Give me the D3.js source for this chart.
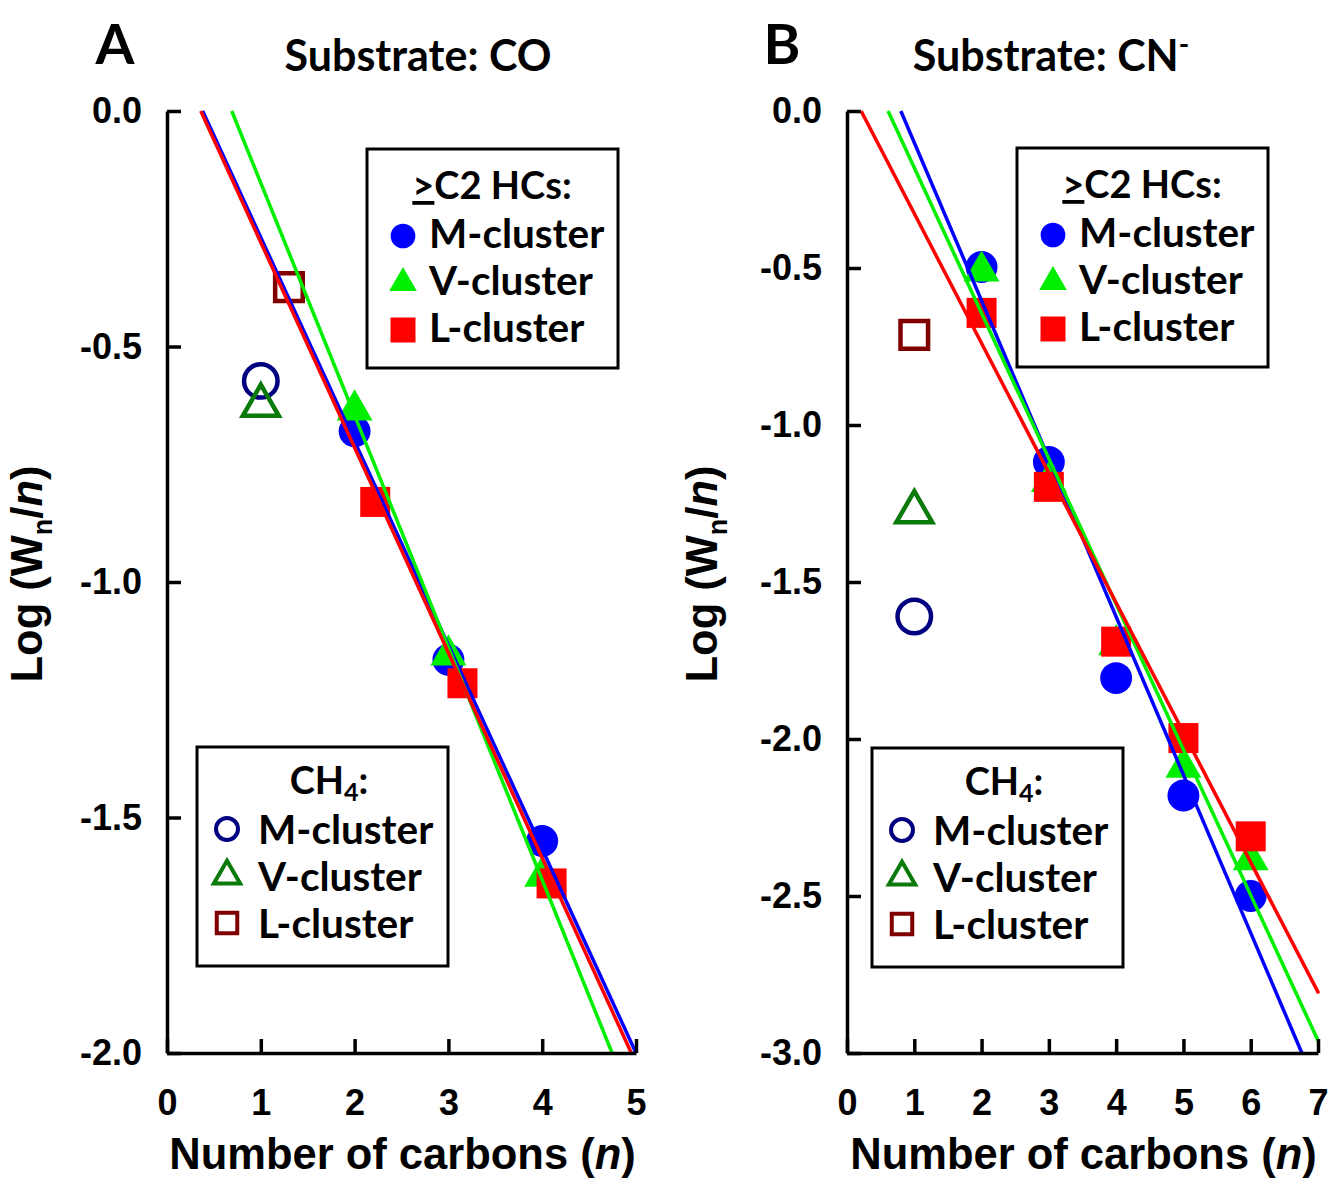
<!DOCTYPE html>
<html lang="en">
<head>
<meta charset="UTF-8" />
<title>Log (Wn/n) vs number of carbons</title>
<script src="https://d3js.org/d3.v7.min.js"></script>
<style>
    body { margin: 0; background: #fff; }
    .axis path, .axis line { stroke: #000; stroke-width: 3.5; }
    .axis text { font-family: "Liberation Sans", Arial, sans-serif; font-weight: bold; font-size: 36px; fill: #000; }
    .axis-title { font-family: "Liberation Sans", Arial, sans-serif; font-weight: bold; font-size: 43.5px; fill: #000; }
    .cal { font-family: Lato, "Open Sans", sans-serif; font-weight: bold; fill: #000; }
    .fit { fill: none; stroke-width: 3.5; }
    .legend-box { fill: #fff; stroke: #000; stroke-width: 3; }
</style>
</head>
<body>
<div id="chart"></div>
<script>
// ---- panel A : substrate CO ----
var xTicksA = [0, 1, 2, 3, 4, 5];
var yTicksA = [0, -0.5, -1, -1.5, -2];
var nA = [2, 3, 4];
var mClusterA = [-0.68, -1.165, -1.55];
var vClusterA = [-0.635, -1.155, -1.625];
var nLA = [2.22, 3.15, 4.1];          // L-cluster points sit a bit right of the integers
var lClusterA = [-0.83, -1.215, -1.64];
var ch4NA = [1, 1, 1.3];              // CH4 points: M, V, L
var ch4A = [-0.573, -0.625, -0.374];
var fitMA = [[0.38, 0], [5.0, -2.0]];
var fitVA = [[0.69, 0], [4.745, -2.0]];
var fitLA = [[0.36, 0], [4.95, -2.0]];

// ---- panel B : substrate CN- ----
var xTicksB = [0, 1, 2, 3, 4, 5, 6, 7];
var yTicksB = [0, -0.5, -1, -1.5, -2, -2.5, -3];
var nB = [2, 3, 4, 5, 6];
var mClusterB = [-0.497, -1.118, -1.806, -2.18, -2.5];
var vClusterB = [-0.51, -1.18, -1.7, -2.09, -2.385];
var lClusterB = [-0.643, -1.197, -1.69, -1.997, -2.31];
var ch4NB = [1, 1, 1];
var ch4B = [-1.61, -1.277, -0.713];
var fitMB = [[0.8, 0], [6.76, -3.0]];
var fitVB = [[0.61, 0], [7.01, -2.965]];
var fitLB = [[0.21, 0], [7.01, -2.81]];

var clusterNames = ["M-cluster", "V-cluster", "L-cluster"];

var fillCol = ["#0000ff", "#00ee00", "#ff0000"];
var openCol = ["#000080", "#0a7a0a", "#800000"];
var symbols = [d3.symbolCircle, d3.symbolTriangle, d3.symbolSquare];

var svg = d3.select("#chart").append("svg")
    .attr("width", 1332)
    .attr("height", 1180);

function drawPanel(p) {
    var x = d3.scaleLinear().domain(p.xDomain).range([p.left, p.right]);
    var y = d3.scaleLinear().domain(p.yDomain).range([p.top, p.bottom]);
    var g = svg.append("g");

    // filled markers (>=C2 HCs)
    var filledSize = [800, 560, 900];
    p.series.forEach(function(s, i) {
        g.selectAll(null)
            .data(s.vals)
            .enter().append("path")
            .attr("d", d3.symbol().type(symbols[i]).size(filledSize[i]))
            .attr("transform", function(d, j) { return "translate(" + x(s.n[j]) + "," + y(d) + ")"; })
            .attr("fill", fillCol[i]);
    });

    // open markers (CH4)
    var openSize = [880, 560, 760];
    p.ch4.forEach(function(d, i) {
        g.append("path")
            .attr("d", d3.symbol().type(symbols[i]).size(openSize[i]))
            .attr("transform", "translate(" + x(p.ch4N[i]) + "," + y(d) + ")")
            .attr("fill", "none")
            .attr("stroke", openCol[i])
            .attr("stroke-width", 4.5);
    });

    // regression lines
    var line = d3.line()
        .x(function(d) { return x(d[0]); })
        .y(function(d) { return y(d[1]); });
    p.fits.forEach(function(f, i) {
        g.append("path")
            .datum(f)
            .attr("class", "fit")
            .attr("stroke", fillCol[i])
            .attr("d", line);
    });

    // axes, ticks pointing inwards
    g.append("g")
        .attr("class", "axis")
        .attr("transform", "translate(0," + p.bottom + ")")
        .call(d3.axisBottom(x).tickValues(p.xTicks).tickSize(-14).tickSizeOuter(0).tickPadding(36)
            .tickFormat(function(d) { return d; }));

    g.append("g")
        .attr("class", "axis")
        .attr("transform", "translate(" + p.left + ",0)")
        .call(d3.axisLeft(y).tickValues(p.yTicks).tickSize(-14).tickSizeOuter(0).tickPadding(25)
            .tickFormat(function(d) { return d.toFixed(1); }));

    // axis titles
    g.append("text")
        .attr("class", "axis-title")
        .attr("x", (p.left + p.right) / 2 + 1)
        .attr("y", 1169)
        .attr("text-anchor", "middle")
        .html("Number of carbons (<tspan font-style='italic'>n</tspan>)");

    var yt = g.append("text")
        .attr("class", "axis-title")
        .attr("font-size", 42)
        .attr("transform", "translate(" + p.yTitleX + ",574) rotate(-90)")
        .attr("text-anchor", "middle");
    yt.append("tspan").text("Log (W");
    yt.append("tspan").attr("font-size", 27).attr("dy", 10).text("n");
    yt.append("tspan").attr("dy", -10).text("/");
    yt.append("tspan").attr("font-style", "italic").text("n");
    yt.append("tspan").text(")");

    // panel letter and title
    g.append("text")
        .attr("class", "cal")
        .attr("x", p.letterX)
        .attr("y", 64)
        .attr("text-anchor", "middle")
        .attr("font-size", 56)
        .text(p.letter);

    var t = g.append("text")
        .attr("class", "cal")
        .attr("x", p.titleX)
        .attr("y", 71)
        .attr("text-anchor", "middle")
        .attr("font-size", 43);
    t.append("tspan").text(p.title);
    if (p.titleSup) {
        t.append("tspan").attr("font-size", 28).attr("dy", -17).text(p.titleSup);
    }

    // legend for >=C2 hydrocarbons (filled)
    var l1 = p.legendHC;
    g.append("rect").attr("class", "legend-box")
        .attr("x", l1.x).attr("y", l1.y).attr("width", 251).attr("height", 219);
    var h1 = g.append("text").attr("class", "cal")
        .attr("x", l1.x + 125).attr("y", l1.y + 50)
        .attr("text-anchor", "middle").attr("font-size", 38);
    h1.append("tspan").attr("text-decoration", "underline").text(">");
    h1.append("tspan").text("C2 HCs:");
    var legFill = [480, 330, 625];
    clusterNames.forEach(function(name, i) {
        var by = l1.y + 99 + i * 47;
        g.append("path")
            .attr("d", d3.symbol().type(symbols[i]).size(legFill[i]))
            .attr("transform", "translate(" + (l1.x + 36) + "," + (by - 12) + ")")
            .attr("fill", fillCol[i]);
        g.append("text").attr("class", "cal")
            .attr("x", l1.x + 62).attr("y", by)
            .attr("font-size", 40.5)
            .text(name);
    });

    // legend for CH4 (open)
    var l2 = p.legendCH4;
    g.append("rect").attr("class", "legend-box")
        .attr("x", l2.x).attr("y", l2.y).attr("width", 251).attr("height", 219);
    var h2 = g.append("text").attr("class", "cal")
        .attr("x", l2.x + 132).attr("y", l2.y + 47)
        .attr("text-anchor", "middle").attr("font-size", 38);
    h2.append("tspan").text("CH");
    h2.append("tspan").attr("font-size", 25).attr("dy", 7).text("4");
    h2.append("tspan").attr("dy", -7).text(":");
    var legOpen = [380, 300, 420];
    clusterNames.forEach(function(name, i) {
        var by = l2.y + 97 + i * 47;
        g.append("path")
            .attr("d", d3.symbol().type(symbols[i]).size(legOpen[i]))
            .attr("transform", "translate(" + (l2.x + 30) + "," + (by - 15) + ")")
            .attr("fill", "none")
            .attr("stroke", openCol[i])
            .attr("stroke-width", 4);
        g.append("text").attr("class", "cal")
            .attr("x", l2.x + 61).attr("y", by)
            .attr("font-size", 40.5)
            .text(name);
    });
}

drawPanel({
    xDomain: [0, 5], yDomain: [0, -2],
    left: 167, right: 636, top: 111, bottom: 1053,
    xTicks: xTicksA, yTicks: yTicksA,
    series: [
        { n: nA, vals: mClusterA },
        { n: nA, vals: vClusterA },
        { n: nLA, vals: lClusterA }
    ],
    ch4N: ch4NA, ch4: ch4A,
    fits: [fitMA, fitVA, fitLA],
    yTitleX: 42,
    letter: "A", letterX: 115,
    title: "Substrate: CO", titleX: 418,
    legendHC: { x: 367, y: 149 },
    legendCH4: { x: 197, y: 747 }
});

drawPanel({
    xDomain: [0, 7], yDomain: [0, -3],
    left: 847, right: 1318, top: 111, bottom: 1053,
    xTicks: xTicksB, yTicks: yTicksB,
    series: [
        { n: nB, vals: mClusterB },
        { n: nB, vals: vClusterB },
        { n: nB, vals: lClusterB }
    ],
    ch4N: ch4NB, ch4: ch4B,
    fits: [fitMB, fitVB, fitLB],
    yTitleX: 717,
    letter: "B", letterX: 782,
    title: "Substrate: CN", titleSup: "-", titleX: 1051,
    legendHC: { x: 1017, y: 148 },
    legendCH4: { x: 872, y: 748 }
});
</script>
</body>
</html>
